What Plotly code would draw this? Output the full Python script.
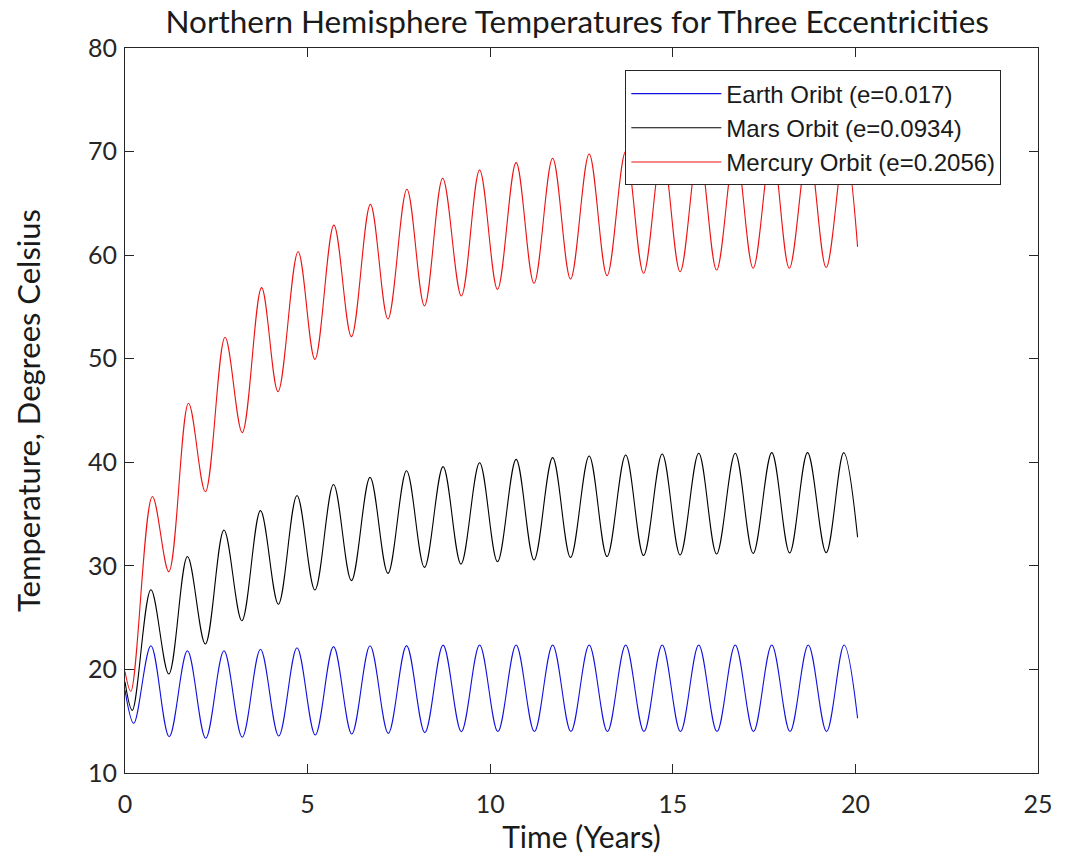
import plotly.graph_objects as go

# ---- Data (extrema of each oscillation, plus start/end) ----
earth_t = [0.0, 0.24, 0.71, 1.21, 1.71, 2.21, 2.71, 3.21, 3.71, 4.21, 4.71, 5.21, 5.71,
           6.21, 6.71, 7.21, 7.71, 8.21, 8.71, 9.21, 9.71, 10.21, 10.71, 11.21, 11.71,
           12.21, 12.71, 13.21, 13.71, 14.21, 14.71, 15.21, 15.71, 16.21, 16.71, 17.21,
           17.71, 18.21, 18.71, 19.21, 19.69, 20.06]
earth_T = [18.0, 14.8, 22.29, 13.5, 21.8, 13.35, 21.8, 13.45, 21.95, 13.57, 22.1, 13.67, 22.2,
           13.77, 22.29, 13.83, 22.3, 13.9, 22.35, 13.99, 22.36, 14.0, 22.36, 14.0, 22.36,
           14.0, 22.36, 14.0, 22.36, 14.0, 22.36, 14.0, 22.36, 14.0, 22.36, 14.0,
           22.36, 14.0, 22.36, 14.0, 22.36, 15.28]

mars_t = [0.0, 0.2, 0.71, 1.2, 1.71, 2.2, 2.71, 3.2, 3.71, 4.2, 4.71, 5.2, 5.71,
          6.2, 6.71, 7.2, 7.71, 8.2, 8.71, 9.2, 9.71, 10.2, 10.71, 11.2, 11.71,
          12.2, 12.71, 13.2, 13.71, 14.2, 14.71, 15.2, 15.71, 16.2, 16.71, 17.2,
          17.71, 18.2, 18.69, 19.2, 19.68, 20.06]
mars_T = [18.8, 16.05, 27.7, 19.56, 30.9, 22.45, 33.46, 24.7, 35.33, 26.3, 36.8, 27.67, 37.85,
          28.57, 38.54, 29.27, 39.19, 29.85, 39.58, 30.17, 39.96, 30.4, 40.28, 30.57, 40.45,
          30.8, 40.61, 30.9, 40.7, 31.0, 40.8, 31.05, 40.87, 31.15, 40.87, 31.2,
          40.93, 31.25, 40.93, 31.27, 40.93, 32.76]

mercury_t = [0.0, 0.16, 0.75, 1.2, 1.74, 2.2, 2.74, 3.21, 3.74, 4.19, 4.74, 5.2, 5.72,
             6.2, 6.72, 7.2, 7.72, 8.2, 8.7, 9.21, 9.71, 10.2, 10.71, 11.2, 11.71,
             12.2, 12.71, 13.2, 13.71, 14.2, 14.71, 15.2, 15.71, 16.2, 16.71, 17.2,
             17.71, 18.19, 18.71, 19.2, 19.71, 20.06]
mercury_T = [19.8, 17.9, 36.7, 29.44, 45.7, 37.16, 52.07, 42.86, 56.86, 46.82, 60.33, 49.94, 62.9,
             52.13, 64.9, 53.84, 66.36, 55.1, 67.42, 56.06, 68.22, 56.7, 68.93, 57.28, 69.35,
             57.7, 69.77, 58.02, 70.0, 58.25, 70.15, 58.4, 70.3, 58.57, 70.4, 58.73,
             70.45, 58.73, 70.5, 58.8, 70.55, 60.8]

series_names = ["Earth Oribt (e=0.017)", "Mars Orbit (e=0.0934)", "Mercury Orbit (e=0.2056)"]
series_colors = ["#1010e0", "#000000", "#ee1111"]

x_ticks = [0, 5, 10, 15, 20, 25]
y_ticks = [10, 20, 30, 40, 50, 60, 70, 80]

fig = go.Figure()
for t, T, name, col in zip([earth_t, mars_t, mercury_t],
                           [earth_T, mars_T, mercury_T],
                           series_names, series_colors):
    fig.add_trace(go.Scatter(x=t, y=T, mode="lines", name=name,
                             line=dict(color=col, width=1.1, shape="spline", smoothing=1.0)))

axis_common = dict(showgrid=False, zeroline=False, showline=True, linecolor="#262626",
                   linewidth=1, mirror="ticks", ticks="inside", ticklen=9,
                   tickcolor="#262626",
                   tickfont=dict(family="Lato", size=25, color="#262626"))

fig.update_layout(
    width=1065, height=861,
    margin=dict(l=125, r=20, t=48, b=88),
    paper_bgcolor="white", plot_bgcolor="white",
    title=dict(text="Northern Hemisphere Temperatures for Three Eccentricities",
               x=0.542, xanchor="center", y=0.974, yanchor="middle",
               font=dict(family="Lato", size=31.5, color="#1a1a1a")),
    xaxis=dict(range=[0, 25], tickvals=x_ticks, ticklabelstandoff=9,
               title=dict(text="Time (Years)", font=dict(family="Lato", size=30, color="#1a1a1a"),
                          standoff=2),
               **axis_common),
    yaxis=dict(range=[10, 80], tickvals=y_ticks, ticklabelstandoff=2,
               title=dict(text="Temperature, Degrees Celsius",
                          font=dict(family="Lato", size=31, color="#1a1a1a"), standoff=38),
               **axis_common),
    legend=dict(x=0.548, y=0.969, xanchor="left", yanchor="top",
                bgcolor="white", bordercolor="#262626", borderwidth=1,
                font=dict(family="Liberation Sans", size=24, color="#1a1a1a"),
                tracegroupgap=0, itemwidth=90),
    showlegend=True,
)

fig.write_html("out.html")
